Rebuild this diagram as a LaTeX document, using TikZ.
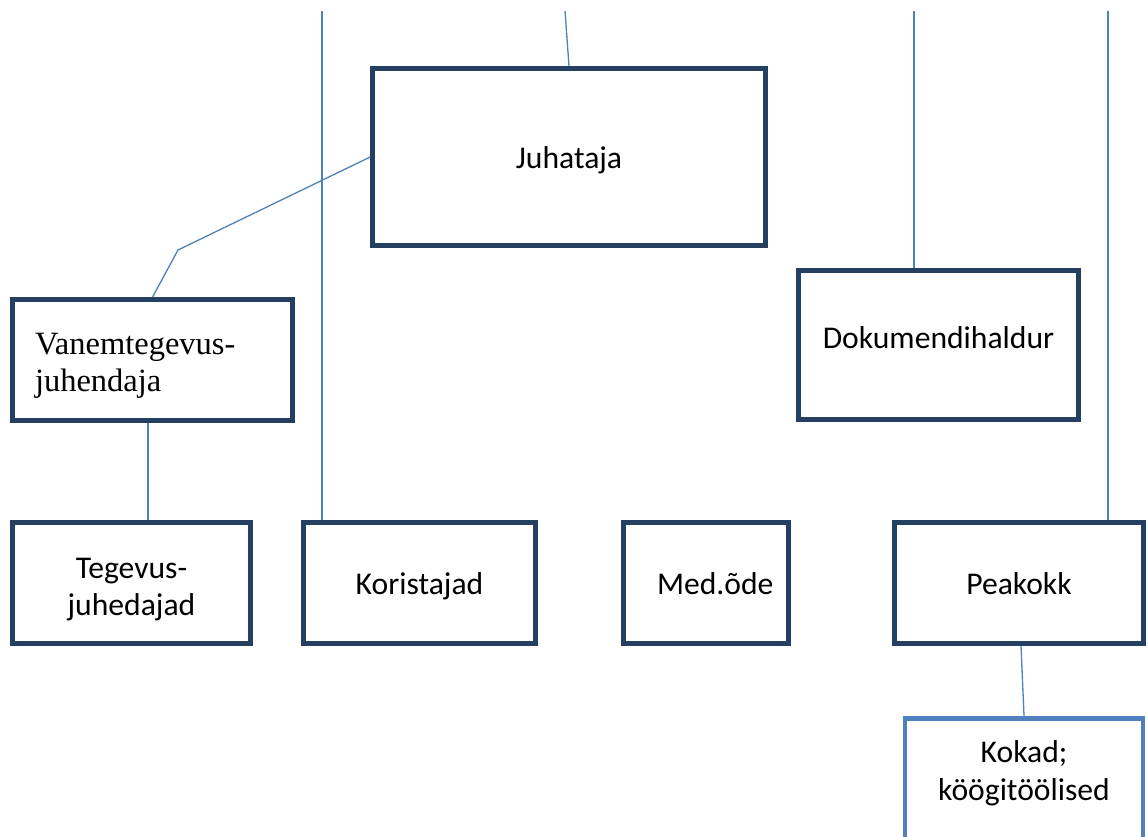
\documentclass[tikz,border=0pt]{standalone}
\usepackage{fontspec}
\setmainfont{Carlito}
\newfontfamily\serifrm{Liberation Serif}
\usepackage{tikz}
\definecolor{boxnavy}{HTML}{243F60}
\definecolor{linkblue}{HTML}{4F81BD}

\begin{document}
\begin{tikzpicture}[x=0.02cm, y=-0.02cm]
		\tikzstyle{every node} = [rectangle, draw=boxnavy, line width=2.65pt, inner sep=0pt, align=center, font=\fontsize{18}{21.6}\selectfont]
		\tikzstyle{oneline} = [text height=0.55cm, text depth=0.1cm]
		\tikzstyle{link} = [linkblue, line width=0.75pt]
		\useasboundingbox (0,0) rectangle (1148,837);
		\node[oneline, minimum width=7.86cm, minimum height=3.54cm] (juh) at (569,157) {Juhataja};
		\node[minimum width=5.6cm, minimum height=2.42cm, inner xsep=0.45cm, text width=4.7cm, align=left, font=\serifrm\fontsize{18.5}{21}\selectfont] (van) at (152.5,360) {\rule{0pt}{19pt}Vanemtegevus-\\juhendaja};
		\node[minimum width=5.6cm, minimum height=2.98cm, text depth=0.3cm] (dok) at (938.5,345) {Dokumendihaldur};
		\node[minimum width=4.76cm, minimum height=2.42cm] (teg) at (131.5,583) {\rule{0pt}{19pt}Tegevus-\\juhedajad};
		\node[oneline, minimum width=4.64cm, minimum height=2.42cm] (kor) at (419.5,583) {Koristajad};
		\node[oneline, minimum width=3.3cm, minimum height=2.42cm, inner xsep=0.67cm, text width=1.96cm, align=left] (med) at (706,583) {Med.õde};
		\node[oneline, minimum width=4.98cm, minimum height=2.42cm] (pea) at (1019,583) {Peakokk};
		\node[draw=linkblue, minimum width=4.76cm, minimum height=3.4cm, anchor=north] (kok) at (1024,716) {};
		\node[draw=none] (koktxt) at (1024,773) {Kokad;\\köögitöölised};
		% lines coming in from above the page
		\coordinate (t1) at (322,11);
		\coordinate (t2) at (565,11);
		\coordinate (t3) at (914,11);
		\coordinate (t4) at (1108,11);
		\coordinate (knee) at (178,250);
		\foreach \from/\to in {t1/kor, t3/dok, t4/pea}
		\draw [link] (\from) -- (\from |- \to.north);
		\draw [link] (t2) -- (juh.north);
		\draw [link] (juh.west) -- (knee) -- (van.north);
		\draw [link] ([xshift=-0.09cm]van.south) -- ([xshift=-0.09cm]van.south |- teg.north);
		\draw [link] ([xshift=0.04cm]pea.south) -- (kok.north);
	\end{tikzpicture}
\end{document}
